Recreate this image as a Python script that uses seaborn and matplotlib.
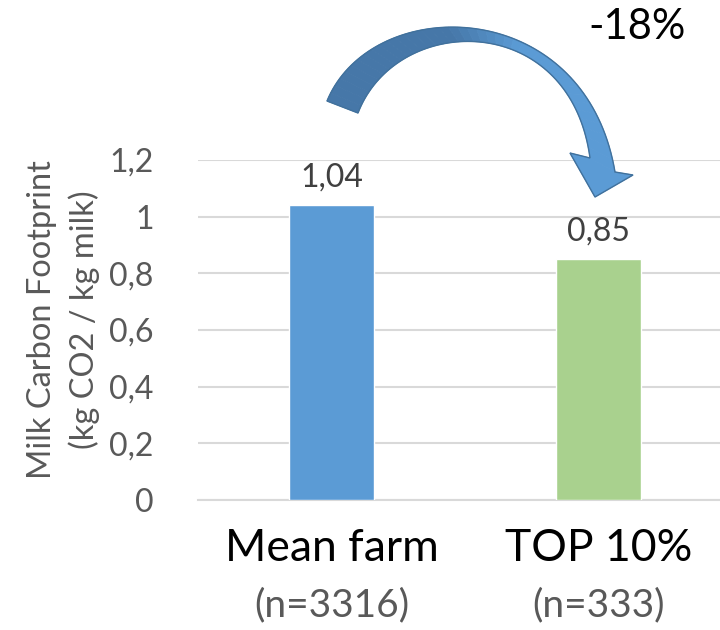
import numpy as np
import pandas as pd
import seaborn as sns
import matplotlib.pyplot as plt
from matplotlib.patches import Polygon
from matplotlib.colors import to_rgb

# data
groups = ['Mean farm', 'TOP 10%']
footprint = [1.04, 0.85]
n_labels = ['(n=3316)', '(n=333)']
bar_colors = ['#5B9BD5', '#A9D18E']
ylabel_lines = ['Milk Carbon Footprint', '(kg CO2 / kg milk)']
change_label = '-18%'

df = pd.DataFrame({'group': groups, 'footprint': footprint})

sns.set_theme(style='white')
plt.rcParams['font.family'] = ['Lato', 'DejaVu Sans']

W, H = 720, 630
fig = plt.figure(figsize=(W / 100, H / 100), dpi=100)
ax = fig.add_axes([198 / W, 1 - 500 / H, 522 / W, 340 / H])

sns.barplot(data=df, x='group', y='footprint', hue='group', palette=bar_colors,
            width=0.315, saturation=1, legend=False, ax=ax, zorder=3)

ax.set_ylim(0, 1.2)
ax.set_xlim(-0.5, 1.455)
yt = np.arange(0, 1.21, 0.2)
ax.set_yticks(yt)
ax.set_yticklabels([('%g' % round(v, 1)).replace('.', ',') for v in yt])
ax.yaxis.grid(True, color='#D9D9D9', linewidth=1.5, zorder=0)
ax.set_axisbelow(True)
for s in ['left', 'right', 'top']:
    ax.spines[s].set_visible(False)
ax.spines['bottom'].set_color('#D9D9D9')
ax.spines['bottom'].set_linewidth(1.5)
ax.tick_params(axis='y', length=0, labelsize=23, labelcolor='#595959', pad=32)
ax.tick_params(axis='x', length=0, labelsize=32, labelcolor='black', pad=20)
ax.set_xlabel('')
ax.set_ylabel('')
for xp, line in zip([42, 84], ylabel_lines):
    fig.text(xp / W, 1 - 320 / H, line, rotation=90, ha='center', va='center',
             fontsize=23.5, color='#595959')

# value labels
for i, v in enumerate(footprint):
    ax.text(i, v + 0.045, f'{v:.2f}'.replace('.', ','), ha='center', va='bottom',
            fontsize=23, color='#404040')

# n labels under categories
for i, t in enumerate(n_labels):
    ax.text(i, -0.37, t, ha='center', va='center', fontsize=28, color='#595959',
            clip_on=False)


# curved arrow (annotation), drawn in pixel space
def px(pts):
    pts = np.asarray(pts, dtype=float)
    return np.column_stack([pts[:, 0] / W, 1 - pts[:, 1] / H])


def bez(p0, p1, p2, p3, t):
    t = t[:, None]
    p0, p1, p2, p3 = map(np.asarray, (p0, p1, p2, p3))
    return ((1 - t) ** 3) * p0 + 3 * ((1 - t) ** 2) * t * p1 + 3 * (1 - t) * t ** 2 * p2 + t ** 3 * p3


outer = ((327, 101), (372, -8), (585, -6), (615, 172))
inner = ((358, 113), (397, 12), (570, 10), (590, 158))
dark = np.array(to_rgb('#4677A8'))
light = np.array(to_rgb('#5B9BD5'))
edges = np.linspace(0, 1, 41)
for a, b in zip(edges[:-1], edges[1:]):
    tt = np.linspace(a, b, 5)
    seg = np.vstack([bez(*outer, tt), bez(*inner, tt)[::-1]])
    m = np.clip(((a + b) / 2 - 0.42) / 0.2, 0, 1)
    c = dark * (1 - m) + light * m
    fig.patches.append(Polygon(px(seg), closed=True, transform=fig.transFigure,
                               facecolor=c, edgecolor=c, linewidth=0.6))
head = [(615, 172), (633, 175), (595, 197), (570, 153), (590, 158)]
fig.patches.append(Polygon(px(head), closed=True, transform=fig.transFigure,
                           facecolor=light, edgecolor=light, linewidth=0.6))
tt = np.linspace(0, 1, 80)
outline = np.vstack([bez(*outer, tt), [(633, 175), (595, 197), (570, 153)], bez(*inner, tt)[::-1]])
fig.patches.append(Polygon(px(outline), closed=True, transform=fig.transFigure,
                           facecolor='none', edgecolor='#41719C', linewidth=1))

fig.text(637 / W, 1 - 27 / H, change_label, ha='center', va='center', fontsize=30, color='black')

fig.savefig('out.png', dpi=100)
